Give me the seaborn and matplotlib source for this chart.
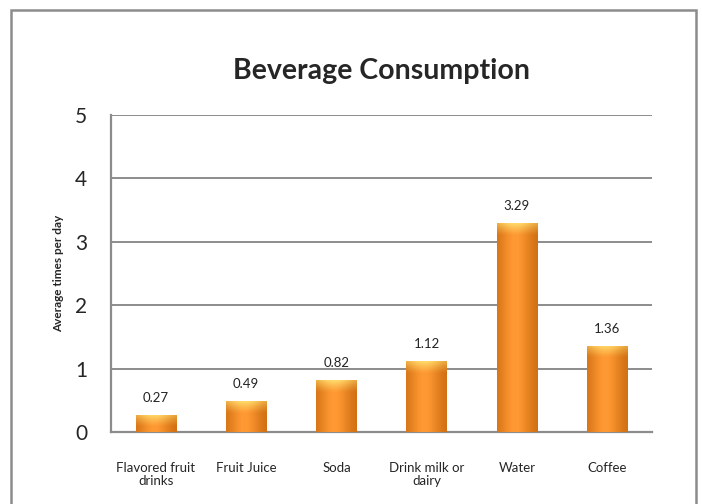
import numpy as np
import pandas as pd
import matplotlib
matplotlib.use('Agg')
import matplotlib.pyplot as plt
import seaborn as sns
from matplotlib.patches import Rectangle

# chart data
categories = ['Flavored fruit\ndrinks', 'Fruit Juice', 'Soda', 'Drink milk or\ndairy', 'Water', 'Coffee']
values = [0.27, 0.49, 0.82, 1.12, 3.29, 1.36]
y_ticks = [0, 1, 2, 3, 4, 5]

df = pd.DataFrame({'Beverage': categories, 'Times': values})

sns.set_style('white')
plt.rcParams['font.family'] = ['Lato', 'DejaVu Sans']

fig = plt.figure(figsize=(7.02, 5.04), dpi=100)
ax = fig.add_axes([0.158, 0.143, 0.771, 0.629])

sns.barplot(data=df, x='Beverage', y='Times', color='#F7941D', width=0.45,
            saturation=1, ax=ax, zorder=3)

# gradient fill on each bar (dark edges, light middle, yellow top cap)
t = np.linspace(0, 1, 64)
prof = np.exp(-((t - 0.45) / 0.38) ** 2)
dark = np.array([0.80, 0.42, 0.06])
light = np.array([1.0, 0.60, 0.20])
row = dark[None, :] + (light - dark)[None, :] * prof[:, None]
img = np.repeat(row[None, :, :], 2, axis=0)

cap = np.zeros((16, 64, 4))
cap[..., 0] = 1.0
cap[..., 1] = 0.86
cap[..., 2] = 0.42
vfade = np.linspace(1, 0, 16) ** 1.2
cap[..., 3] = vfade[:, None] * (0.45 + 0.55 * prof[None, :])

for bar in ax.patches:
    x, w, h = bar.get_x(), bar.get_width(), bar.get_height()
    bar.set_edgecolor('none')
    im = ax.imshow(img, extent=[x, x + w, 0, h], aspect='auto', zorder=4,
                   interpolation='bilinear')
    im.set_clip_path(bar)
    capim = ax.imshow(cap, extent=[x, x + w, h - 0.2, h], aspect='auto',
                      zorder=5, interpolation='bilinear', origin='upper')
    capim.set_clip_path(bar)
    ax.annotate(f'{h:.2f}', (x + w / 2, h), xytext=(0, 8), textcoords='offset points',
                ha='center', va='bottom', fontsize=9.5, color='#222222')

ax.set_xlim(-0.5, len(categories) - 0.5)
ax.set_ylim(0, 5)
ax.set_yticks(y_ticks)
ax.set_yticklabels([str(v) for v in y_ticks], fontsize=15)
ax.yaxis.grid(True, color='#8c8c8c', linewidth=1.4, zorder=0)
ax.set_axisbelow(True)

ax.set_xticks(range(len(categories)))
ax.set_xticklabels(categories, fontsize=9.5, linespacing=1.1)
ax.set_xticks(np.arange(-0.5, len(categories)), minor=True)
ax.tick_params(axis='x', which='major', length=0, pad=22)
ax.tick_params(axis='x', which='minor', length=5, width=1.4, color='#8c8c8c', direction='out')
ax.tick_params(axis='y', length=7, width=1.4, color='#8c8c8c', direction='out', pad=10)

for side in ['top', 'right']:
    ax.spines[side].set_visible(False)
for side in ['left', 'bottom']:
    ax.spines[side].set_color('#8c8c8c')
    ax.spines[side].set_linewidth(1.6)

ax.set_xlabel('')
ax.set_ylabel('Average times per day', fontsize=8.5, fontweight='bold', labelpad=8)
ax.set_title('Beverage Consumption', fontsize=20.5, fontweight='bold', pad=26)

# outer chart border
fig.patches.append(Rectangle((11 / 702, -0.05), 685 / 702, 1 - 10 / 504 + 0.05,
                             transform=fig.transFigure, fill=False,
                             edgecolor='#8c8c8c', linewidth=1.8, zorder=10))

fig.savefig('out.png', dpi=100)
